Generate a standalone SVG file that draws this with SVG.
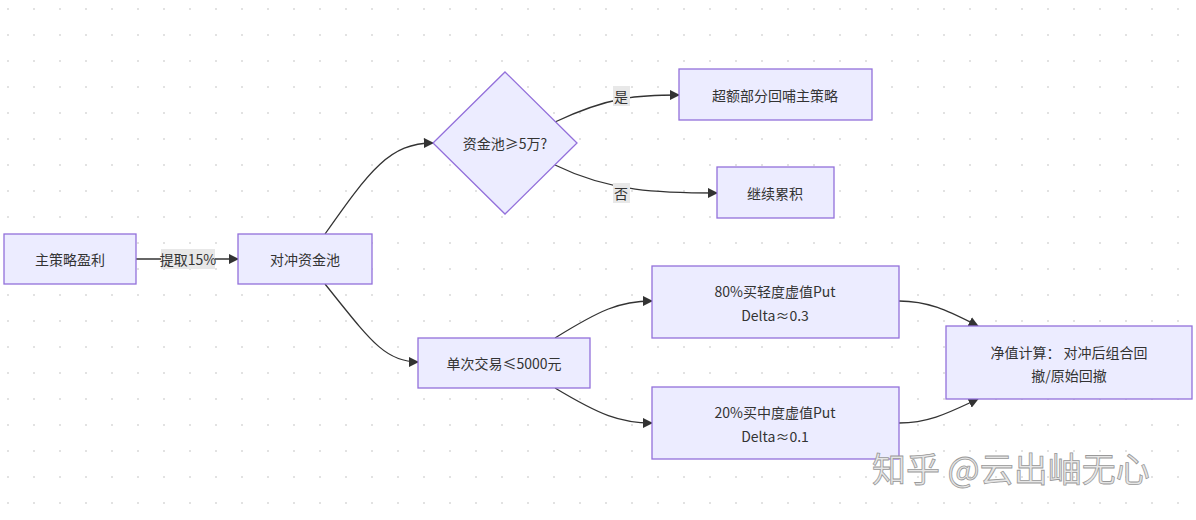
<svg xmlns="http://www.w3.org/2000/svg" width="1196" height="520" viewBox="0 0 1196 520">
<defs>
<pattern id="dots" width="26" height="26" patternUnits="userSpaceOnUse" x="7" y="8"><circle cx="1" cy="1" r="1" fill="#d8d8d8"/></pattern>
<marker id="ar" viewBox="0 0 10 10" refX="9" refY="5" markerWidth="8" markerHeight="8" orient="auto"><path d="M0,0L10,5L0,10z" fill="#333"/></marker>
<style>
.n{fill:#ececff;stroke:#9370db;stroke-width:1.3}
.t{font-family:"Noto Sans CJK SC","Noto Sans",sans-serif;font-size:14px;fill:#333;text-anchor:middle;dominant-baseline:central}
.e{fill:none;stroke:#333;stroke-width:1.3;marker-end:url(#ar)}
.lb{fill:#e8e8e8}
</style>
</defs>
<rect width="1196" height="520" fill="#fff"/>
<rect width="1196" height="520" fill="url(#dots)"/>
<g id="connectors">
<path class="e" d="M136,259H238"/>
<path class="e" d="M325,234C370,170 390,143 433,143"/>
<path class="e" d="M325,284C370,340 385,362 418,362"/>
<path class="e" d="M555,122C610,96 640,95 679,95"/>
<path class="e" d="M555,165C610,192 660,193 717,193"/>
<path class="e" d="M555,338C600,310 620,301 652,301"/>
<path class="e" d="M555,388C600,415 620,423 652,423"/>
<path class="e" d="M899,301C930,301 950,312 978,326"/>
<path class="e" d="M899,423C930,423 950,412 978,399"/>
<rect class="lb" x="161" y="249" width="54" height="20"/><text class="t" x="188" y="259">提取15%</text>
<rect class="lb" x="613" y="86" width="17" height="20"/><text class="t" x="621" y="96">是</text>
<rect class="lb" x="613" y="183" width="17" height="20"/><text class="t" x="621" y="193">否</text>
</g>
<g id="n1"><rect class="n" x="4" y="234" width="132" height="50"/><text class="t" x="70" y="259">主策略盈利</text></g>
<g id="n2"><rect class="n" x="238" y="234" width="134" height="50"/><text class="t" x="305" y="259">对冲资金池</text></g>
<g id="n3"><path class="n" d="M505,72L577,143L505,214L433,143Z"/><text class="t" x="505" y="143">资金池≥5万?</text></g>
<g id="n4"><rect class="n" x="679" y="69" width="193" height="51"/><text class="t" x="775" y="95">超额部分回哺主策略</text></g>
<g id="n5"><rect class="n" x="717" y="167" width="117" height="51"/><text class="t" x="775" y="193">继续累积</text></g>
<g id="n6"><rect class="n" x="418" y="338" width="172" height="50"/><text class="t" x="504" y="363">单次交易≤5000元</text></g>
<g id="n7"><rect class="n" x="652" y="266" width="247" height="72"/><text class="t" x="775" y="291">80%买轻度虚值Put</text><text class="t" x="775" y="315">Delta≈0.3</text></g>
<g id="n8"><rect class="n" x="652" y="387" width="247" height="72"/><text class="t" x="775" y="412">20%买中度虚值Put</text><text class="t" x="775" y="436">Delta≈0.1</text></g>
<g id="n9"><rect class="n" x="946" y="326" width="246" height="73"/><text class="t" x="1069" y="352">净值计算： 对冲后组合回</text><text class="t" x="1069" y="375">撤/原始回撤</text></g>
<text x="872" y="482" font-family="Noto Sans CJK SC,sans-serif" font-size="34" fill="#e6e6e6" stroke="#999" stroke-width="0.8">知乎 @云出岫无心</text>
</svg>
